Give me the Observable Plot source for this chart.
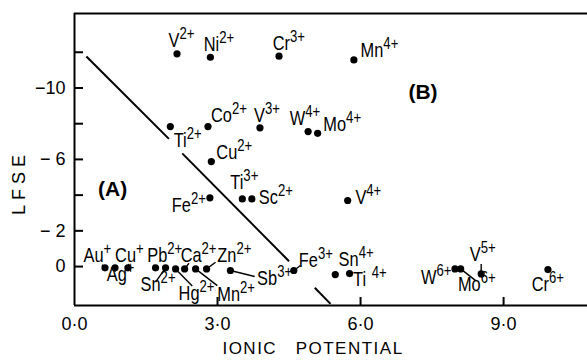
<!DOCTYPE html>
<html><head><meta charset="utf-8">
<script src="https://cdn.jsdelivr.net/npm/d3@7"></script>
<script src="https://cdn.jsdelivr.net/npm/@observablehq/plot@0.6"></script>
<style>html,body{margin:0;padding:0;background:#fff;}</style>
</head><body><div id="chart"></div>
<script>
// ---- data ----
const ions = ["V","Ni","Cr","Mn","Ti","Co","V","W","Mo","Cu","Fe","Ti","Sc","V","Au","Ag","Cu","Pb","Sn","Hg","Ca","Mn","Zn","Sb","Fe","Sn","Ti","W","Mo","V","Cr"];
const charges = ["2+","2+","3+","4+","2+","2+","3+","4+","4+","2+","2+","3+","2+","4+","+","+","+","2+","2+","2+","2+","2+","2+","3+","3+","4+","4+","6+","6+","5+","6+"];
const ionicPotential = [2.15,2.85,4.29,5.86,2.01,2.80,3.89,4.90,5.10,2.87,2.84,3.52,3.72,5.73,0.64,0.85,1.12,1.70,1.91,2.12,2.31,2.54,2.77,3.27,4.60,5.47,5.77,7.98,8.10,8.53,9.93];
const lfse = [-11.91,-11.72,-11.78,-11.57,-7.84,-7.84,-7.77,-7.56,-7.46,-5.88,-3.85,-3.79,-3.79,-3.70,0.07,0.07,0.07,0.07,0.07,0.13,0.13,0.13,0.13,0.22,0.22,0.45,0.39,0.13,0.13,0.41,0.17];
const dividerX1 = [0.25, 2.26, 5.04];
const dividerY1 = [-11.76, -6.34, 1.19];
const dividerX2 = [1.98, 4.50, 5.37];
const dividerY2 = [-7.15, -0.30, 2.09];
const regionNames = ["(A)", "(B)"];
const regionX = [0.80, 7.31];
const regionY = [-4.31, -9.74];
const xTickValues = [0, 3, 6, 9];
const xTickLabels = ["0·0", "3·0", "6·0", "9·0"];
const yTickValues = [-12, -10, -8, -6, -4, -2, 0];
const yLabelValues = [-10, -6, -2, 0];
const yTickLabels = ["−10", "− 6", "− 2", "0"];
const xTitle = "IONIC\u2003POTENTIAL";
const yTitle = "LFSE";

// ---- layout ----
const W = 587, H = 364, ml = 74, mr = 0, mt = 13, mb = 59;
const xDomain = [0, 10.76], yDomain = [2.18, -14.17];
const FONT = '"Liberation Sans", Arial, sans-serif';
const CONDENSE = 0.82;
// label offsets in px from the dot: [dx, dy(baseline), anchor, leader end offset]
const layout = {
  "V2+": [-8.4,-6.6], "Ni2+": [-6.7,-6.7], "Cr3+": [-6.4,-6.4], "Mn4+": [6.7,-3.3],
  "Ti2+": [3.3,20.7], "Co2+": [3,-4.3], "V3+": [-6,-5.6], "W4+": [-18.4,-7], "Mo4+": [5.7,-2.7],
  "Cu2+": [5,-2.7], "Fe2+": [-4,14.4,"end"], "Ti3+": [-12,-10], "Sc2+": [7,5], "V4+": [7.7,3.3],
  "Au+": [-21.5,-5.6,"start",[-3,-3]], "Ag+": [-8.3,12.7,"start",[0,4]], "Cu+": [-12.8,-6.3,"start",[1,-4]],
  "Pb2+": [-8.3,-5.6,"start",[-2.3,-3]], "Sn2+": [-25,22.7,"start",[-10,14.4]], "Hg2+": [3,31,"start",[16.7,17]],
  "Ca2+": [-4,-6.6,"start",[4.3,-5.6]], "Mn2+": [21.7,32,"start",[21.7,16.7]], "Zn2+": [10.7,-6.6,"start",[9,-6.6]],
  "Sb3+": [26.7,15,"start",[24.3,6]], "Fe3+": [5,-3.3,"start",[6.7,-5]], "Sn4+": [3.3,-9], "Ti4+": [3.4,12.5],
  "W6+": [-34,15], "Mo6+": [-2.7,21.7,"start",[15,11.7]], "V5+": [-11.4,-13.3,"start",[0,-10]], "Cr6+": [-16.3,21]
};
const supGap = {"Ti4+": 7};

const xs = d3.scaleLinear(xDomain, [ml, W - mr]);
const ys = d3.scaleLinear(yDomain, [H - mb, mt]);
const ox = (x, d) => xs.invert(xs(x) + d);
const oy = (y, d) => ys.invert(ys(y) + d);

const rows = ions.map((ion, i) => ({ion, charge: charges[i], key: ion + charges[i], x: ionicPotential[i], y: lfse[i]}));
const labels = rows.map(r => {
  const L = layout[r.key];
  return {...r, lx: ox(r.x, L[0]), ly: oy(r.y, L[1]), anchor: L[2] || "start", text: r.ion + "|" + r.charge + "|" + (supGap[r.key] || 0)};
});
const leaders = rows.filter(r => layout[r.key][3]).map(r => {
  const o = layout[r.key][3];
  return {x1: r.x, y1: r.y, x2: ox(r.x, o[0]), y2: oy(r.y, o[1])};
});
const divider = dividerX1.map((d, i) => ({x1: d, y1: dividerY1[i], x2: dividerX2[i], y2: dividerY2[i]}));

const chart = Plot.plot({
  width: W, height: H,
  marginLeft: ml, marginRight: mr, marginTop: mt, marginBottom: mb,
  x: {domain: xDomain}, y: {domain: yDomain},
  style: {fontFamily: FONT, color: "#000", background: "#fff", overflow: "visible"},
  marks: [
    Plot.axisX({ticks: xTickValues, tickSize: 0, tickPadding: 12, fontSize: 18, label: null,
      tickFormat: d => xTickLabels[xTickValues.indexOf(d)]}),
    Plot.axisY({ticks: yLabelValues, tickSize: 0, tickPadding: 9, fontSize: 18, label: null,
      tickFormat: d => yTickLabels[yLabelValues.indexOf(d)]}),
    Plot.ruleY(yTickValues, {x1: xDomain[0], x2: ox(xDomain[0], 9), strokeWidth: 2}),
    Plot.ruleX(xTickValues.slice(1), {y1: yDomain[0], y2: oy(yDomain[0], -8), strokeWidth: 2}),
    Plot.ruleX([xDomain[0]], {strokeWidth: 2}),
    Plot.ruleY([yDomain[0], yDomain[1]], {strokeWidth: 2}),
    Plot.link(divider, {x1: "x1", y1: "y1", x2: "x2", y2: "y2", strokeWidth: 2}),
    Plot.link(leaders, {x1: "x1", y1: "y1", x2: "x2", y2: "y2", strokeWidth: 1.4}),
    Plot.dot(rows, {x: "x", y: "y", r: 3.6, fill: "#000"}),
    Plot.text(labels.filter(d => d.anchor === "start"), {x: "lx", y: "ly", text: "text", textAnchor: "start", lineAnchor: "bottom", fontSize: 20}),
    Plot.text(labels.filter(d => d.anchor === "end"), {x: "lx", y: "ly", text: "text", textAnchor: "end", lineAnchor: "bottom", fontSize: 20}),
    Plot.text(regionNames, {x: (d, i) => regionX[i], y: (d, i) => regionY[i], text: d => d, fontWeight: "bold", fontSize: 21}),
    Plot.text([xTitle], {frameAnchor: "bottom", dx: -18, dy: 48, fontSize: 17}),
    Plot.text([yTitle], {frameAnchor: "left", rotate: -90, fontSize: 18})
  ]
});

const NS = "http://www.w3.org/2000/svg";
function condense(t, k) {
  const tr = t.getAttribute("transform");
  if (tr && tr.includes("translate")) {
    t.setAttribute("transform", tr + ` scale(${k},1)`);
  } else {
    const x = +(t.getAttribute("x") || 0), y = +(t.getAttribute("y") || 0);
    t.setAttribute("transform", `${tr ? tr + " " : ""}translate(${x},${y}) scale(${k},1)`);
    t.setAttribute("x", 0); t.setAttribute("y", 0);
  }
}
chart.querySelectorAll("text").forEach(t => {
  const s = t.textContent;
  if (s.includes("|")) {
    const [a, b, g] = s.split("|");
    t.textContent = "";
    const t1 = document.createElementNS(NS, "tspan");
    t1.textContent = a;
    const t2 = document.createElementNS(NS, "tspan");
    t2.textContent = b;
    t2.setAttribute("dy", "-8");
    t2.setAttribute("dx", String(+g));
    t2.setAttribute("font-size", "16");
    t.appendChild(t1); t.appendChild(t2);
    condense(t, CONDENSE);
  } else if (s === xTitle) {
    t.setAttribute("letter-spacing", "1.5");
  } else if (s === yTitle) {
    t.setAttribute("letter-spacing", "5");
    t.removeAttribute("x"); t.removeAttribute("y"); t.removeAttribute("dy");
    t.setAttribute("text-anchor", "middle");
    t.setAttribute("dominant-baseline", "central");
    t.setAttribute("transform", "translate(18,182) rotate(-90)");
  }
});
document.getElementById("chart").appendChild(chart);
</script>
</body></html>
